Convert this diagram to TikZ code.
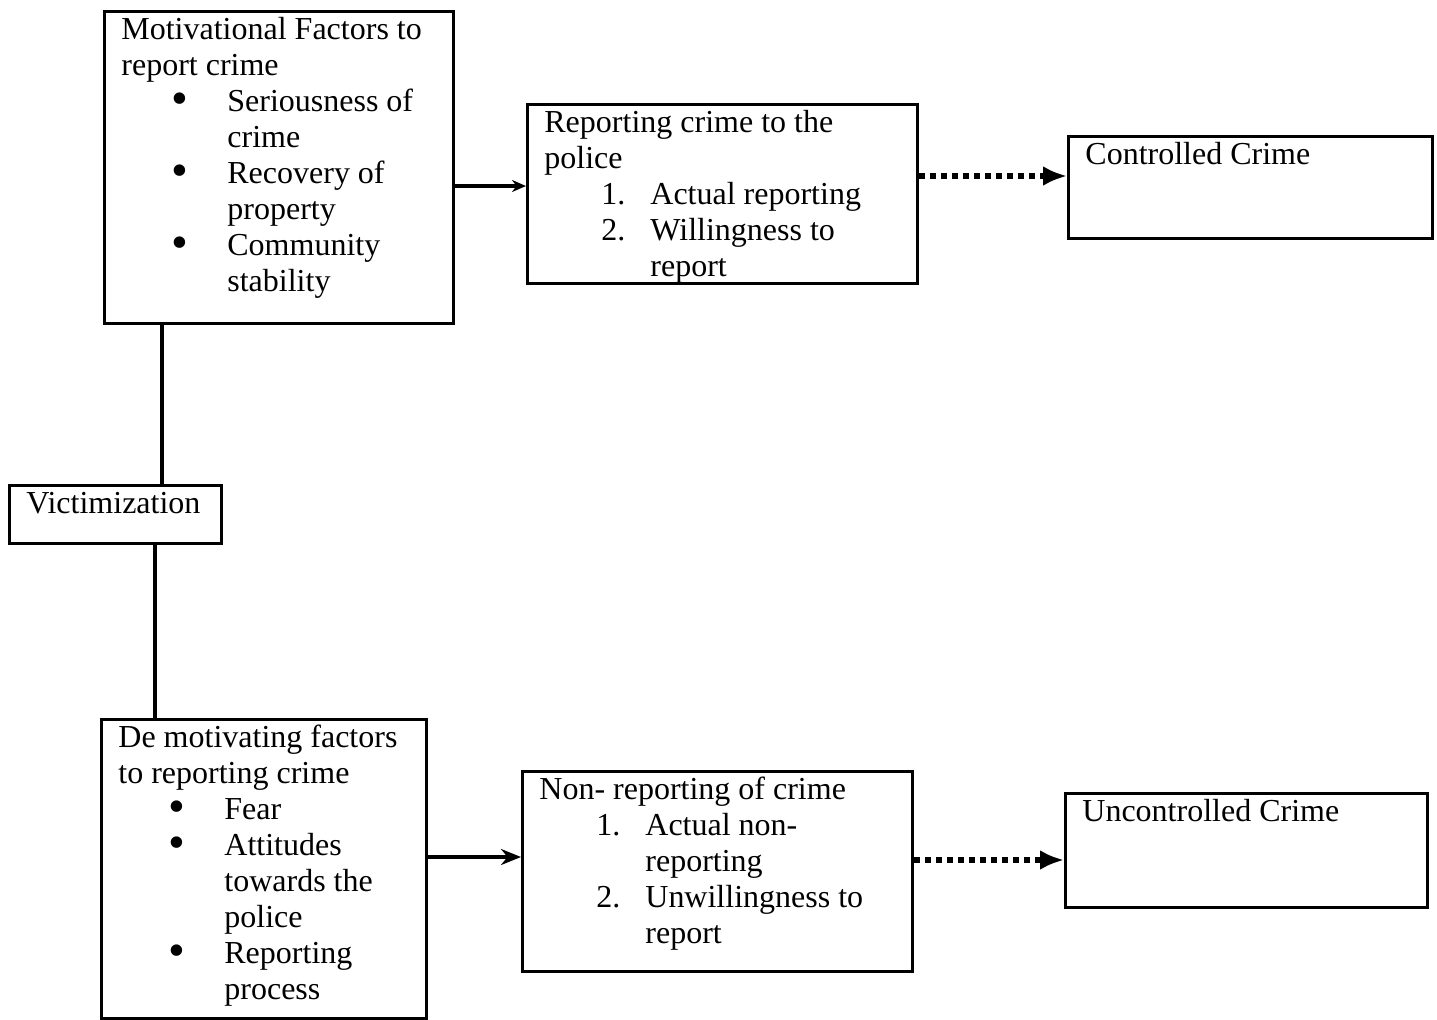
\documentclass[tikz,border=0pt]{standalone}
\usepackage{fontspec}
\setmainfont{Liberation Serif}
\usetikzlibrary{positioning, arrows.meta}
\newcommand{\bul}[1]{\makebox[53pt][l]{\hspace{25pt}\smash{\raisebox{-1.6pt}{\scalebox{1.5}{\textbullet}}}}#1}
\newcommand{\numd}[2]{\makebox[53pt][l]{\hspace{28.5pt}#1.}#2}
\newcommand{\hang}[1]{\hspace*{53pt}#1}
\begin{document}
\begin{tikzpicture}[x=0.5pt,y=-0.5pt]
		\tikzstyle{box} = [draw, line width=1.5pt, anchor=north west, inner sep=0pt]
		\tikzstyle{txt} = [anchor=north west, inner sep=0pt, align=left, font=\fontsize{16}{18}\selectfont]
		\tikzstyle{link} = [line width=1.6pt]
		\tikzstyle{dots} = [line width=3pt, dash pattern=on 3pt off 2.5pt, -{Latex[length=12pt,width=10pt]}]
		\useasboundingbox (0,0) rectangle (1437,1019);
		% boxes
		\node[box, minimum width=174.5pt, minimum height=156pt] (mot) at (103,10) {};
		\node[box, minimum width=195pt, minimum height=89.5pt] (rep) at (526,103) {};
		\node[box, minimum width=182pt, minimum height=51pt] (ctl) at (1067,135) {};
		\node[box, minimum width=106pt, minimum height=29pt] (vic) at (8,484) {};
		\node[box, minimum width=162.5pt, minimum height=149.5pt] (dem) at (100,718) {};
		\node[box, minimum width=195pt, minimum height=100pt] (non) at (521,770) {};
		\node[box, minimum width=181pt, minimum height=57pt] (unc) at (1064,792) {};
		% texts
		\node[txt, below right=1.9pt and 9pt of mot.north west] (motT) {\strut Motivational Factors to\\ report crime\\ \bul{Seriousness of}\\ \hang{crime}\\ \bul{Recovery of}\\ \hang{property}\\ \bul{Community}\\ \hang{stability}};
		\node[txt, below right=1.9pt and 9pt of rep.north west] (repT) {\strut Reporting crime to the\\ police\\ \numd{1}{Actual reporting}\\ \numd{2}{Willingness to}\\ \hang{report}};
		\node[txt, below right=1.9pt and 9pt of ctl.north west] (ctlT) {\strut Controlled Crime};
		\node[txt, below right=1.9pt and 9pt of vic.north west] (vicT) {\strut Victimization};
		\node[txt, below right=1.9pt and 9pt of dem.north west] (demT) {\strut De motivating factors\\ to reporting crime\\ \bul{Fear}\\ \bul{Attitudes}\\ \hang{towards the}\\ \hang{police}\\ \bul{Reporting}\\ \hang{process}};
		\node[txt, below right=1.9pt and 9pt of non.north west] (nonT) {\strut Non- reporting of crime\\ \numd{1}{Actual non-}\\ \hang{reporting}\\ \numd{2}{Unwillingness to}\\ \hang{report}};
		\node[txt, below right=1.9pt and 9pt of unc.north west] (uncT) {\strut Uncontrolled Crime};
		% connectors
		\coordinate (xa) at (162,0); \coordinate (xb) at (155,0);
		\coordinate (ya) at (0,186); \coordinate (yb) at (0,857);
		\coordinate (yc) at (0,176); \coordinate (yd) at (0,860);
		\draw[link] (vic.north -| xa) -- (mot.south -| xa);
		\draw[link] (vic.south -| xb) -- (dem.north -| xb);
		\draw[link, -{Stealth[length=7pt,width=6pt]}] (mot.east |- ya) -- (rep.west |- ya);
		\draw[link, -{Stealth[length=10pt,width=8pt]}] (dem.east |- yb) -- (non.west |- yb);
		\draw[dots] (rep.east |- yc) -- (ctl.west |- yc);
		\draw[dots] (non.east |- yd) -- (unc.west |- yd);
\end{tikzpicture}
\end{document}
